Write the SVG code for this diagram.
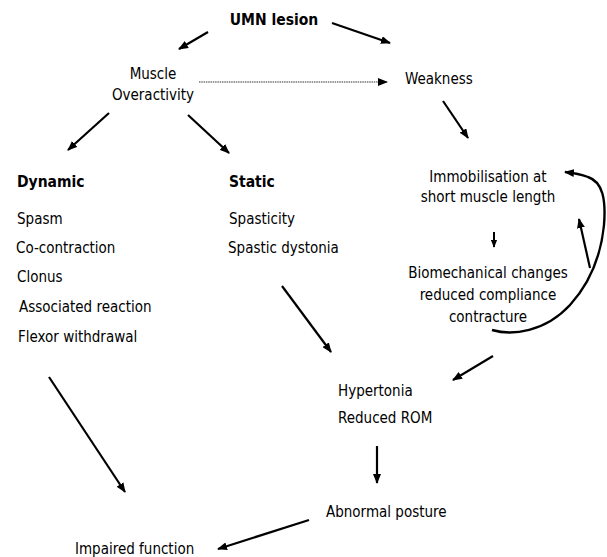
<svg xmlns="http://www.w3.org/2000/svg" width="607" height="557" viewBox="0 0 607 557">
<defs>
<marker id="ah" viewBox="0 0 10 8" refX="9" refY="4" markerWidth="10" markerHeight="8" markerUnits="userSpaceOnUse" orient="auto">
<path d="M0,0 L10,4 L0,8 Z" fill="#000"/>
</marker>
<marker id="ahs" viewBox="0 0 10 8" refX="9" refY="4" markerWidth="8" markerHeight="7" markerUnits="userSpaceOnUse" orient="auto">
<path d="M0,0 L10,4 L0,8 Z" fill="#000"/>
</marker>
<style>
text{font-family:"DejaVu Sans Condensed","DejaVu Sans",sans-serif;font-stretch:condensed;font-size:15px;fill:#000}
.b{font-weight:bold;font-size:15.5px}
.c{text-anchor:middle}
.a{fill:none;stroke:#000;stroke-width:2.2;marker-end:url(#ah)}
.s{fill:none;stroke:#000;stroke-width:2;marker-end:url(#ahs)}
.d{fill:none;stroke:#777;stroke-width:1.5;stroke-dasharray:1.5 0.8;marker-end:url(#ah)}
.cv{fill:none;stroke:#000;stroke-width:2.4;marker-end:url(#ah)}
</style>
</defs>
<rect width="607" height="557" fill="#fff"/>
<g id="connectors">
<line class="a" x1="208" y1="32" x2="179" y2="49"/>
<line class="a" x1="332" y1="23" x2="390" y2="43"/>
<line class="d" x1="199" y1="82" x2="387" y2="82"/>
<line class="a" x1="109" y1="113" x2="68" y2="150"/>
<line class="a" x1="188" y1="115" x2="229" y2="153"/>
<line class="a" x1="443" y1="101" x2="468" y2="138"/>
<line class="s" x1="494" y1="232" x2="494" y2="247"/>
<line class="a" x1="282" y1="286" x2="331" y2="352"/>
<line class="a" x1="493" y1="356" x2="453" y2="380"/>
<line class="a" x1="377" y1="446" x2="377" y2="483"/>
<line class="a" x1="309" y1="520" x2="218" y2="549"/>
<line class="a" x1="49" y1="377" x2="125" y2="492"/>
<path class="cv" d="M492,330 C512,336 545,332 570,305 C590,283 601,255 604,225 C606,200 603,182 588,177 C580,174 574,173 565,172"/>
<line class="a" x1="590" y1="268" x2="579" y2="219"/>
</g>
<g id="umn"><text class="b c" x="274" y="25">UMN lesion</text></g>
<g id="muscle"><text class="c" x="153" y="79">Muscle</text><text class="c" x="153" y="100">Overactivity</text></g>
<g id="weakness"><text x="405" y="84">Weakness</text></g>
<g id="dynamic">
<text class="b" x="17" y="187">Dynamic</text>
<text x="17" y="224">Spasm</text>
<text x="16" y="253">Co-contraction</text>
<text x="17" y="282">Clonus</text>
<text x="19" y="312">Associated reaction</text>
<text x="18" y="342">Flexor withdrawal</text>
</g>
<g id="static">
<text class="b" x="229" y="187">Static</text>
<text x="229" y="224">Spasticity</text>
<text x="228" y="253">Spastic dystonia</text>
</g>
<g id="immobilisation"><text class="c" x="488" y="182">Immobilisation at</text><text class="c" x="488" y="202">short muscle length</text></g>
<g id="biomechanical"><text class="c" x="488" y="278">Biomechanical changes</text><text class="c" x="488" y="300">reduced compliance</text><text class="c" x="488" y="322">contracture</text></g>
<g id="hypertonia"><text x="338" y="396">Hypertonia</text><text x="338" y="423">Reduced ROM</text></g>
<g id="posture"><text x="326" y="517">Abnormal posture</text></g>
<g id="impaired"><text x="75" y="554">Impaired function</text></g>
</svg>
